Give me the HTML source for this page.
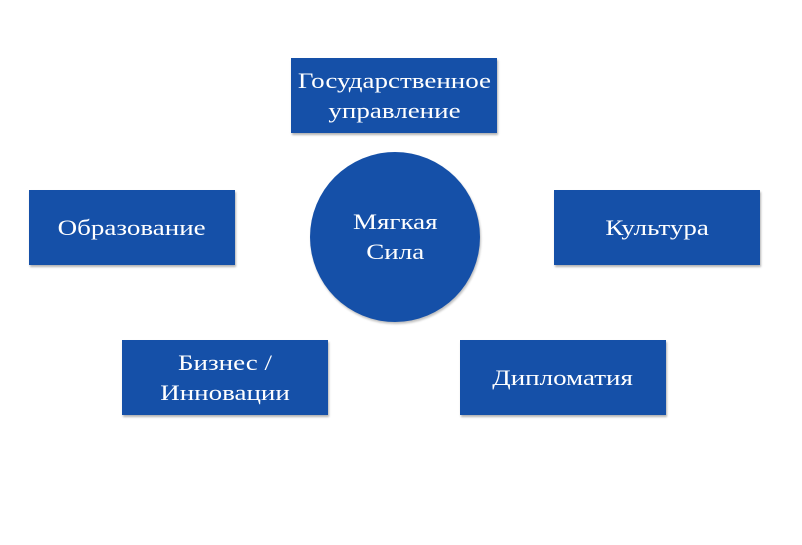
<!DOCTYPE html>
<html><head><style>
body{margin:0;width:802px;height:545px;background:#fff;position:relative;overflow:hidden;font-family:"Liberation Serif","DejaVu Serif",serif;}
.b{position:absolute;width:206px;height:75px;background:#1550a8;color:#fff;display:flex;align-items:center;justify-content:center;text-align:center;font-size:22.5px;line-height:30px;box-shadow:1px 2px 2px rgba(0,0,0,0.3);}
.c{position:absolute;left:310px;top:152px;width:170px;height:170px;border-radius:50%;background:#1550a8;color:#fff;display:flex;align-items:center;justify-content:center;text-align:center;font-size:22.5px;line-height:30px;box-shadow:1px 2px 2px rgba(0,0,0,0.25);}
span{display:inline-block;transform:scaleX(1.2);white-space:nowrap;}
</style></head><body>
<div class="b" style="left:291px;top:58px"><span>Государственное<br>управление</span></div>
<div class="c"><span>Мягкая<br>Сила</span></div>
<div class="b" style="left:29px;top:190px"><span>Образование</span></div>
<div class="b" style="left:554px;top:190px"><span>Культура</span></div>
<div class="b" style="left:122px;top:340px"><span>Бизнес /<br>Инновации</span></div>
<div class="b" style="left:460px;top:340px"><span>Дипломатия</span></div>
</body></html>
